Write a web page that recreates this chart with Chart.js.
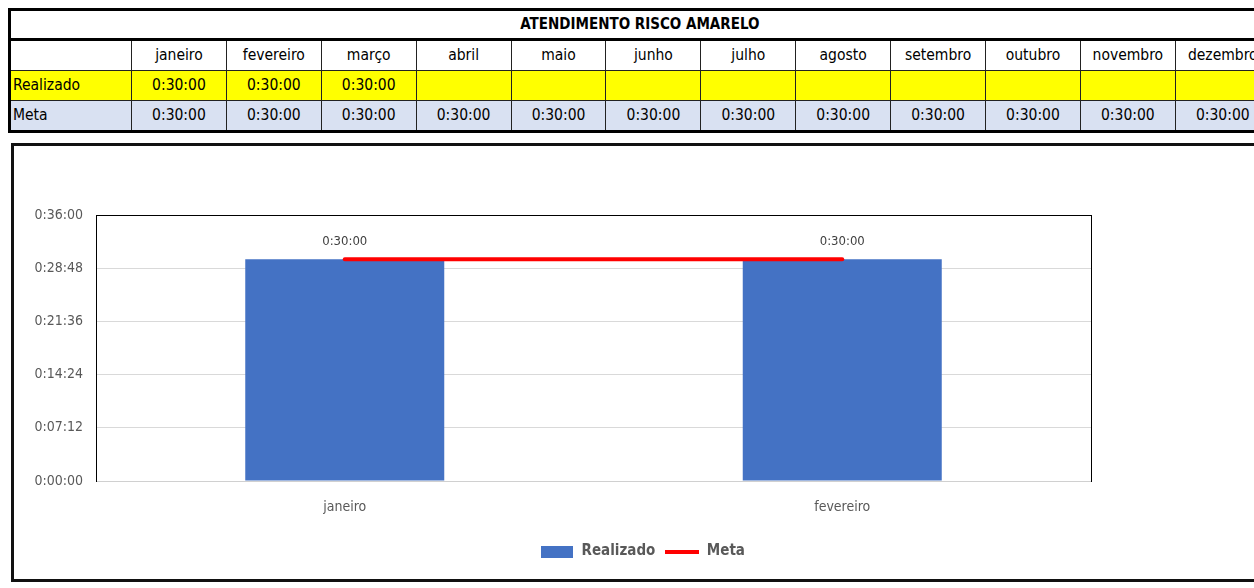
<!DOCTYPE html>
<html>
<head>
<meta charset="utf-8">
<script src="https://cdn.jsdelivr.net/npm/chart.js@4.4.1/dist/chart.umd.min.js"></script>
<style>
  html, body { margin:0; padding:0; width:1254px; height:588px; overflow:hidden; background:#fff; }
  body { position:relative; font-family:"Liberation Sans Narrow","Arial Narrow","DejaVu Sans Condensed","Liberation Sans",sans-serif; }
  #tbl { position:absolute; left:8px; top:8px; border-collapse:collapse; table-layout:fixed; width:1261px; }
  #tbl td { height:29px; padding:0 2px; font-size:15.5px; color:#000; text-align:center; border:1px solid #222; white-space:nowrap; overflow:hidden; line-height:29px; }
  #tbl tr.title td { font-weight:bold; font-size:15px; border:3px solid #000; border-bottom:3px solid #000; background:#fff; height:27px; line-height:27px; }
  #tbl tr.hdr td { background:#fff; }
  #tbl tr.real td { background:#ffff00; }
  #tbl tr.meta td { background:#d9e1f2; border-bottom:3px solid #000; }
  #tbl td.first { text-align:left; border-left:3px solid #000; }
  #box { position:absolute; left:11px; top:143px; width:1300px; height:433px; border:3px solid #111; }
  #c { position:absolute; left:14px; top:146px; }
</style>
</head>
<body>
<table id="tbl"></table>
<div id="box"></div>
<canvas id="c" width="1257" height="433" style="width:1257px;height:433px"></canvas>
<script>
// ---- data ----
const tableTitle = "ATENDIMENTO RISCO AMARELO";
const tableMonths = ["janeiro","fevereiro","março","abril","maio","junho","julho","agosto","setembro","outubro","novembro","dezembro"];
const tableRealizado = [1800, 1800, 1800, null, null, null, null, null, null, null, null, null]; // seconds
const tableMeta = [1800, 1800, 1800, 1800, 1800, 1800, 1800, 1800, 1800, 1800, 1800, 1800];   // seconds

const categories = ["janeiro", "fevereiro"];
const realizado = [1800, 1800]; // seconds
const meta = [1800, 1800];      // seconds
const yMax = 2160, yStep = 432;  // 0:36:00, step 0:07:12

function fmt(sec) {
  if (sec === null || sec === undefined) return "";
  const h = Math.floor(sec / 3600);
  const m = Math.floor((sec % 3600) / 60);
  const s = Math.round(sec % 60);
  return h + ":" + String(m).padStart(2, "0") + ":" + String(s).padStart(2, "0");
}

// ---- table ----
(function buildTable() {
  const t = document.getElementById("tbl");
  let html = '<colgroup><col style="width:122px">' + tableMonths.map(() => '<col style="width:94.9px">').join("") + '</colgroup>';
  html += '<tr class="title"><td colspan="' + (tableMonths.length + 1) + '">' + tableTitle + '</td></tr>';
  html += '<tr class="hdr"><td class="first"></td>' + tableMonths.map(m => '<td>' + m + '</td>').join("") + '</tr>';
  html += '<tr class="real"><td class="first">Realizado</td>' + tableRealizado.map(v => '<td>' + fmt(v) + '</td>').join("") + '</tr>';
  html += '<tr class="meta"><td class="first">Meta</td>' + tableMeta.map(v => '<td>' + fmt(v) + '</td>').join("") + '</tr>';
  t.innerHTML = html;
})();

// ---- chart ----
const FONT = '"Liberation Sans Narrow","Arial Narrow","DejaVu Sans Condensed","Liberation Sans",sans-serif';
const BLUE = "#4472C4", RED = "#FF0000";

function makeSwatch(w, h, color) {
  const cv = document.createElement("canvas");
  cv.width = w; cv.height = h;
  const x = cv.getContext("2d");
  x.fillStyle = color; x.fillRect(0, 0, w, h);
  return cv;
}
const swatchBar = makeSwatch(32, 12, BLUE);
const swatchLine = makeSwatch(34, 4, RED);

const dataLabels = {
  id: "dataLabels",
  afterDatasetsDraw(chart) {
    const ctx = chart.ctx;
    const metaBar = chart.getDatasetMeta(0);
    ctx.save();
    ctx.font = "13px " + FONT;
    ctx.fillStyle = "#404040";
    ctx.textAlign = "center";
    ctx.textBaseline = "middle";
    metaBar.data.forEach((el, i) => {
      ctx.fillText(fmt(chart.data.datasets[0].data[i]), el.x, el.y - 18);
    });
    ctx.restore();
  }
};

new Chart(document.getElementById("c"), {
  data: {
    labels: categories,
    datasets: [
      { type: "bar", label: "Realizado", data: realizado, backgroundColor: BLUE, borderWidth: 0,
        categoryPercentage: 1.0, barPercentage: 0.4, order: 2, yAxisID: "y", xAxisID: "x" },
      { type: "line", label: "Meta", data: meta, borderColor: RED, backgroundColor: RED, borderWidth: 4,
        pointRadius: 0, pointHoverRadius: 0, borderCapStyle: "round", order: 1, yAxisID: "y", xAxisID: "x" }
    ]
  },
  options: {
    responsive: false,
    animation: false,
    devicePixelRatio: 1,
    layout: { padding: { top: 69, bottom: 10, left: 0, right: 0 } },
    plugins: {
      tooltip: { enabled: false },
      legend: {
        position: "bottom",
        labels: {
          usePointStyle: true,
          pointStyleWidth: 34,
          boxHeight: 12,
          padding: 10,
          color: "#595959",
          font: { family: FONT, size: 15, weight: "bold" },
          sort: (a, b) => a.datasetIndex - b.datasetIndex,
          generateLabels(chart) {
            const items = Chart.defaults.plugins.legend.labels.generateLabels(chart);
            items.forEach(it => { it.pointStyle = it.datasetIndex === 0 ? swatchBar : swatchLine; });
            return items;
          }
        }
      }
    },
    scales: {
      x: {
        type: "category",
        position: "bottom",
        grid: { display: false, drawTicks: false },
        border: { display: true, color: "#d0d0d0", width: 1 },
        ticks: { color: "#595959", font: { family: FONT, size: 14 }, padding: 18 },
        afterFit(s) { s.height = 53; }
      },
      xTop: {
        type: "category",
        position: "top",
        grid: { display: false, drawTicks: false },
        border: { display: true, color: "#000", width: 1 },
        ticks: { display: false },
        afterFit(s) { s.height = 0; }
      },
      y: {
        type: "linear",
        position: "left",
        min: 0, max: yMax,
        grid: { drawTicks: false, color: c => (c.tick && (c.tick.value === 0 || c.tick.value === yMax)) ? "rgba(0,0,0,0)" : "#d9d9d9", lineWidth: 1 },
        border: { display: true, color: "#000", width: 1 },
        ticks: { stepSize: yStep, color: "#595959", font: { family: FONT, size: 14 }, padding: 13, callback: v => fmt(v) },
        afterFit(s) { s.width = 82; }
      },
      yRight: {
        type: "linear",
        position: "right",
        grid: { display: false, drawTicks: false },
        border: { display: true, color: "#000", width: 1 },
        ticks: { display: false },
        afterFit(s) { s.width = 180; }
      }
    }
  },
  plugins: [dataLabels]
});
</script>
</body>
</html>
